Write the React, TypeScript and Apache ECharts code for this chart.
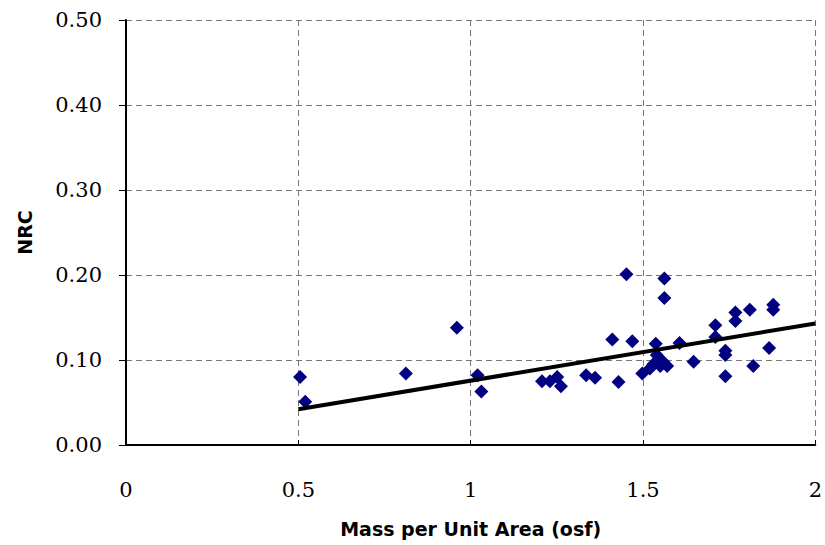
import React, { useEffect, useRef } from "react";
import * as echarts from "echarts";

const massValues: number[] = [
  0.505, 0.52, 0.812, 0.96, 1.02, 1.031, 1.207, 1.23, 1.251, 1.262,
  1.335, 1.361, 1.411, 1.429, 1.452, 1.469, 1.498, 1.52, 1.53, 1.537,
  1.54, 1.55, 1.55, 1.56, 1.562, 1.562, 1.57, 1.606, 1.647, 1.71,
  1.71, 1.739, 1.739, 1.739, 1.768, 1.768, 1.81, 1.82, 1.866, 1.878, 1.878,
];
const nrcValues: number[] = [
  0.08, 0.051, 0.084, 0.138, 0.082, 0.063, 0.075, 0.075, 0.08, 0.069,
  0.082, 0.079, 0.124, 0.074, 0.201, 0.122, 0.084, 0.09, 0.095, 0.119,
  0.106, 0.101, 0.093, 0.097, 0.196, 0.173, 0.093, 0.12, 0.098, 0.141,
  0.127, 0.111, 0.106, 0.081, 0.156, 0.146, 0.159, 0.093, 0.114, 0.165, 0.159,
];
const trendX: number[] = [0.5, 2];
const trendY: number[] = [0.042, 0.143];
const xTicks: number[] = [0, 0.5, 1, 1.5, 2];
const yTicks: number[] = [0, 0.1, 0.2, 0.3, 0.4, 0.5];

export default function App() {
  const ref = useRef<HTMLDivElement>(null);
  useEffect(() => {
    if (!ref.current) return;
    const chart = echarts.init(ref.current, null, { renderer: "svg" });
    const serif = "DejaVu Serif, serif";
    const sans = "DejaVu Sans";
    chart.setOption({
      animation: false,
      backgroundColor: "#ffffff",
      grid: { left: 126, right: 4, top: 20, bottom: 100 },
      xAxis: {
        type: "value",
        min: xTicks[0],
        max: xTicks[xTicks.length - 1],
        interval: 0.5,
        name: "Mass per Unit Area (osf)",
        nameLocation: "middle",
        nameGap: 74,
        nameTextStyle: { fontFamily: sans, fontWeight: "bold", fontSize: 19, color: "#000" },
        axisLine: { show: true, lineStyle: { color: "#000", width: 2 } },
        axisTick: { show: true, inside: true, length: 5, lineStyle: { color: "#000" } },
        axisLabel: {
          margin: 34,
          fontFamily: serif,
          fontSize: 21,
          color: "#000",
          formatter: (v: number) => String(v),
        },
        splitLine: { show: true, lineStyle: { color: "#777777", type: [6, 4], width: 1 } },
      },
      yAxis: {
        type: "value",
        min: yTicks[0],
        max: yTicks[yTicks.length - 1],
        interval: 0.1,
        name: "NRC",
        nameLocation: "middle",
        nameGap: 92,
        nameRotate: 90,
        nameTextStyle: { fontFamily: sans, fontWeight: "bold", fontSize: 19, color: "#000" },
        axisLine: { show: true, lineStyle: { color: "#000", width: 2 } },
        axisTick: { show: true, inside: false, length: 7, lineStyle: { color: "#000" } },
        axisLabel: {
          margin: 24,
          fontFamily: serif,
          fontSize: 21,
          color: "#000",
          formatter: (v: number) => v.toFixed(2),
        },
        splitLine: { show: true, lineStyle: { color: "#777777", type: [6, 4], width: 1 } },
      },
      series: [
        {
          type: "scatter",
          symbol: "diamond",
          symbolSize: 14,
          itemStyle: { color: "#000080", opacity: 1 },
          data: massValues.map((x, i) => [x, nrcValues[i]]),
          z: 3,
        },
        {
          type: "line",
          symbol: "none",
          lineStyle: { color: "#000", width: 4 },
          data: trendX.map((x, i) => [x, trendY[i]]),
          z: 4,
        },
      ],
    });
    return () => chart.dispose();
  }, []);
  return <div ref={ref} style={{ width: 825, height: 545, position: "absolute", left: 0, top: 0 }} />;
}
